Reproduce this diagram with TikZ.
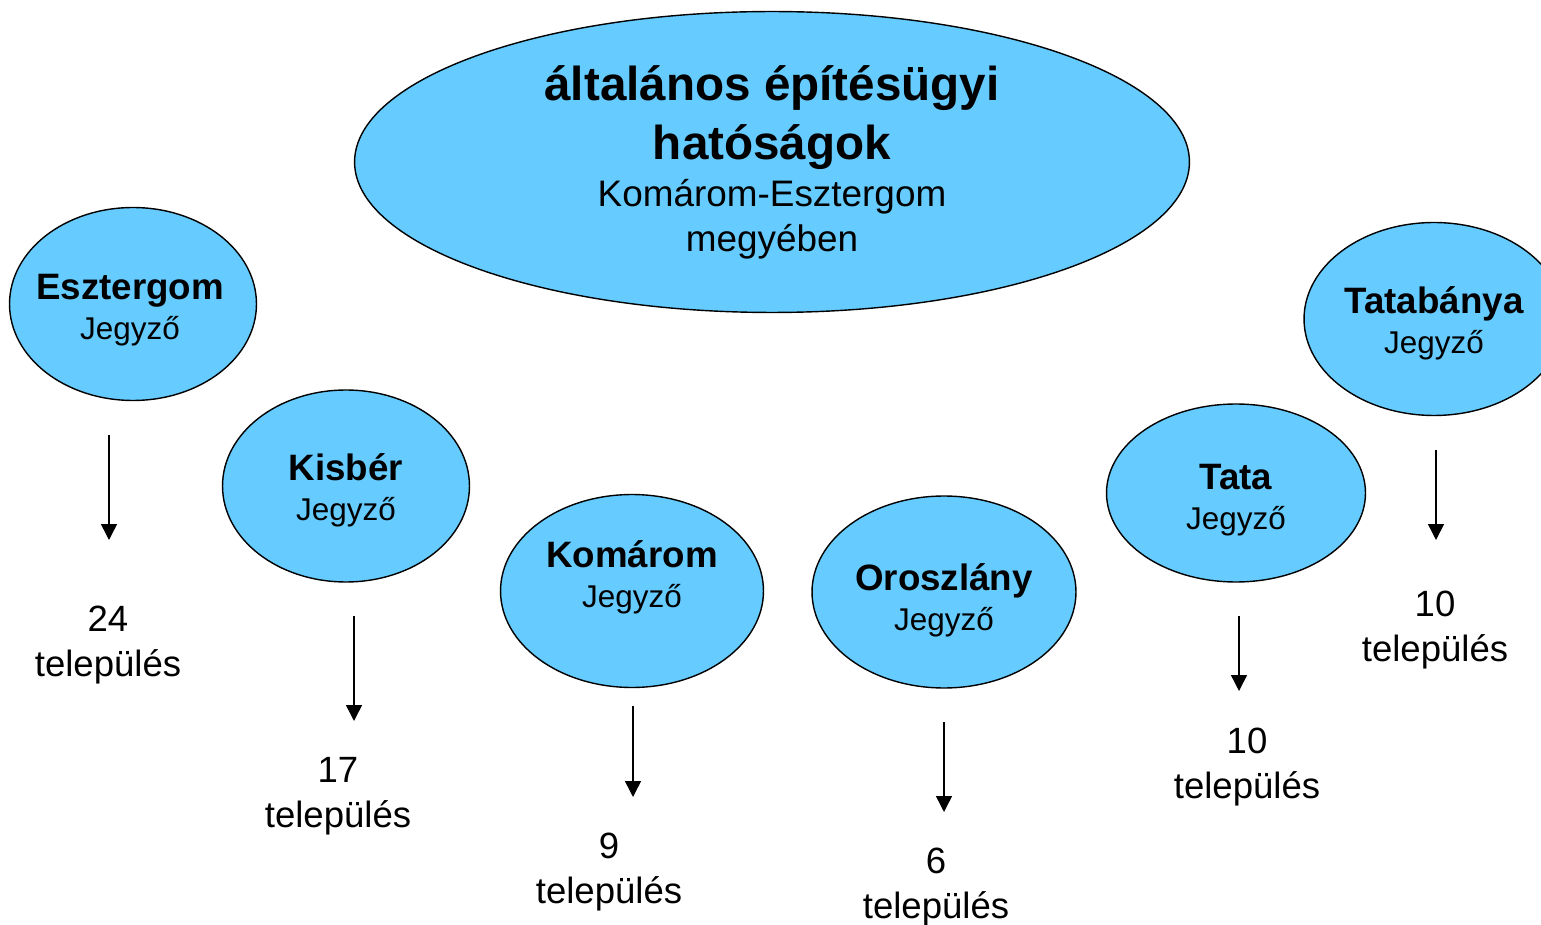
\documentclass[tikz,border=0pt]{standalone}
\usepackage{fontspec}
\setmainfont{Liberation Sans}
\usepackage{tikz}
\usetikzlibrary{arrows.meta,shapes.geometric,calc}
\definecolor{authblue}{RGB}{102,204,255}
\newcommand{\officename}[1]{{\fontsize{20.9}{22.7}\selectfont\bfseries #1}}

\begin{document}
\begin{tikzpicture}[
    x=0.02cm, y=-0.02cm,
    authority/.style={ellipse, draw, fill=authblue, line width=0.8pt, inner sep=0pt, align=center},
    office/.style={authority},
    officetext/.style={inner sep=0pt, align=center, font=\fontsize{17.9}{22.7}\selectfont},
    count/.style={anchor=north, inner sep=0pt, align=center, font=\fontsize{20.8}{25.5}\selectfont},
    downarrow/.style={-{Triangle[length=9pt,width=9pt]}, line width=0.85pt},
]
\useasboundingbox (0,0) rectangle (1541,925);

% === County-level authority ===
\node[authority, minimum width=16.7cm, minimum height=6.02cm, font=\fontsize{21}{25.5}\selectfont] (main) at (772,162)
    {{\fontsize{27.1}{32.9}\selectfont\bfseries általános építésügyi}\\[7.4pt]{\fontsize{27.1}{32.9}\selectfont\bfseries hatóságok}\\[1pt]Komárom-Esztergom\\megyében};

% === Local notaries ===
\node[office, minimum width=4.94cm, minimum height=3.86cm] (esz) at (133,304) {};
\node[office, minimum width=4.94cm, minimum height=3.84cm] (kis) at (346,486) {};
\node[office, minimum width=5.26cm, minimum height=3.86cm] (kom) at (632,591) {};
\node[office, minimum width=5.28cm, minimum height=3.84cm] (oro) at (944,592) {};
\node[office, minimum width=5.18cm, minimum height=3.56cm] (tat) at (1236,493) {};
\node[office, minimum width=5.2cm, minimum height=3.86cm] (tbn) at (1434,319) {};

\node[officetext] (esz-text) at (130,310) {\officename{Esztergom}\\Jegyző};
\node[officetext] (kis-text) at (346,490) {\officename{Kisbér}\\Jegyző};
\node[officetext] (kom-text) at (632,577) {\officename{Komárom}\\Jegyző};
\node[officetext] (oro-text) at (944,600) {\officename{Oroszlány}\\Jegyző};
\node[officetext] (tat-text) at (1236,500) {\officename{Tata}\\Jegyző};
\node[officetext] (tbn-text) at (1434,323) {\officename{Tatabánya}\\Jegyző};

% === Number of settlements ===
\node[count] (n24) at (108,606) {24\\település};
\node[count] (n17) at (338,757) {17\\település};
\node[count] (n9) at (609,833) {9\\település};
\node[count] (n6) at (936,848) {6\\település};
\node[count] (n10a) at (1247,728) {10\\település};
\node[count] (n10b) at (1435,591) {10\\település};

% arrow starts below each notary
\coordinate (s1) at (109,435);
\coordinate (s2) at (354,616);
\coordinate (s3) at (633,706);
\coordinate (s4) at (944,722);
\coordinate (s5) at (1239,616);
\coordinate (s6) at (1436,450);

\foreach \s/\n/\g in {s1/n24/66, s2/n17/36, s3/n9/36, s4/n6/36, s5/n10a/37, s6/n10b/51}{
    \draw[downarrow, shorten >=\g*0.02cm] (\s) -- (\s |- \n.north);
}

\end{tikzpicture}
\end{document}
